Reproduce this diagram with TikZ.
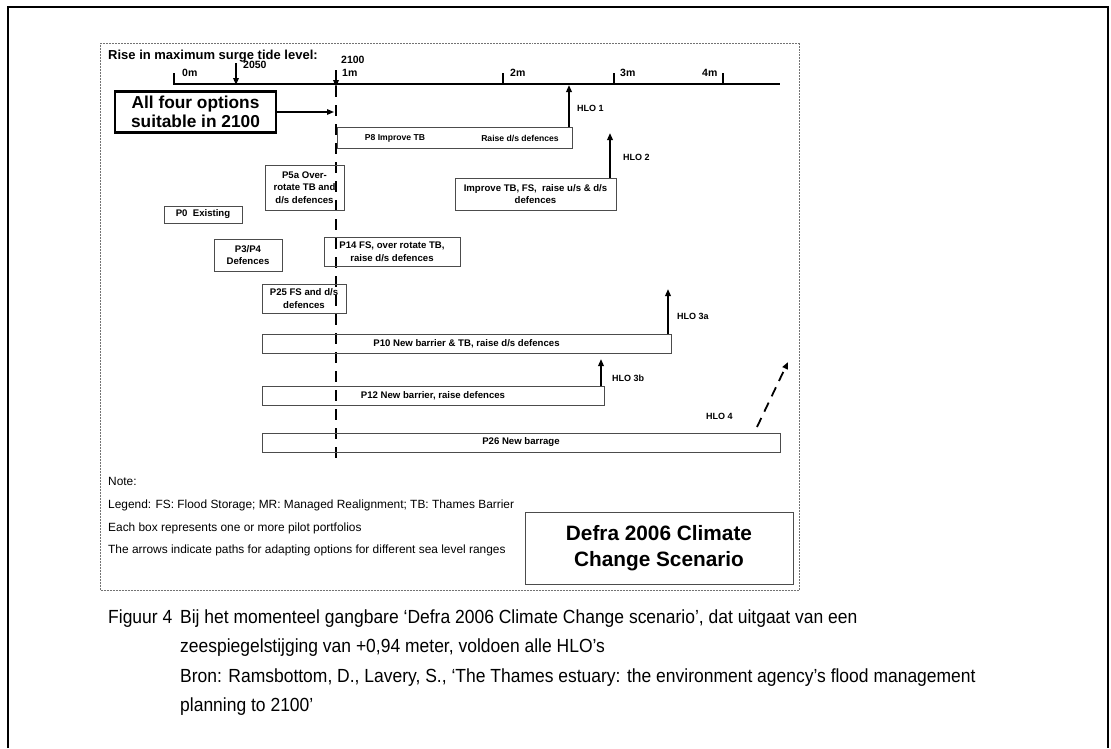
\documentclass[tikz,border=0pt]{standalone}
\usepackage{fontspec}
\setmainfont{Liberation Sans}
\newfontfamily\capfont[FakeStretch=0.92]{Liberation Sans}
\usetikzlibrary{arrows.meta}

\begin{document}
\begin{tikzpicture}[x=1pt,y=-1pt,
  frame/.style={line width=1.8pt},
  optbox/.style={draw=black!70, line width=0.6pt, inner sep=1pt, align=center,
    font=\bfseries\fontsize{9.6}{12.5}\selectfont},
  boxtxt/.style={inner sep=0pt, font=\bfseries\fontsize{8.6}{10}\selectfont},
  axlbl/.style={inner sep=0pt, anchor=west, font=\bfseries\fontsize{10.5}{12}\selectfont},
  hlo/.style={inner sep=0pt, anchor=west, font=\bfseries\fontsize{9}{11}\selectfont},
  notetxt/.style={inner sep=0pt, anchor=west, font=\fontsize{11.9}{13}\selectfont},
  captxt/.style={inner sep=0pt, anchor=base west, font=\capfont\fontsize{19}{21}\selectfont},
  uparrow/.style={-{Triangle[length=7pt,width=5.5pt]}, line width=1.7pt},
]
\useasboundingbox (0,0) rectangle (1111,748);

% page frame, open at the bottom
\draw[frame] (8,748) -- (8,7) -- (1108,7) -- (1108,748);

% figure panel
\draw[black!55, line width=0.5pt, densely dotted] (100,43) rectangle (799,590);

% --- sea level axis --------------------------------------------------
\node[inner sep=0pt, anchor=west, font=\bfseries\fontsize{13}{15}\selectfont] (title) at (108,56) {Rise in maximum surge tide level:};
\coordinate (ax0top) at (174,73);
\coordinate (ax0) at (174,84);
\coordinate (ax1) at (780,84);
\draw[line width=1.8pt] (ax0top) -- (ax0) -- (ax1);
\foreach \tx/\nm in {503/t2, 614/t3, 723/t4}{
  \coordinate (\nm a) at (\tx,73);
  \coordinate (\nm b) at (\tx,84);
  \draw[line width=1.2pt] (\nm a) -- (\nm b);
}
\node[axlbl] (l0) at (182,73) {0m};
\node[axlbl] (l1) at (342,73) {1m};
\node[axlbl] (l2) at (510,73) {2m};
\node[axlbl] (l3) at (620,73) {3m};
\node[axlbl] (l4) at (702,73) {4m};
\node[axlbl] (y2050) at (243,65) {2050};
\node[axlbl] (y2100) at (341,60) {2100};

\coordinate (a2050s) at (236,63);
\coordinate (a2050e) at (236,85);
\draw[uparrow] (a2050s) -- (a2050e);
\coordinate (a2100s) at (336,70);
\coordinate (a2100e) at (336,87);
\draw[uparrow] (a2100s) -- (a2100e);

% 2100 marker line
\coordinate (m2100top) at (336,86);
\coordinate (m2100bot) at (336,463);
\draw[line width=2.6pt, dash pattern=on 11pt off 8pt] (m2100top) -- (m2100bot);

% --- headline box ------------------------------------------------------
\node[draw, line width=2.4pt, minimum width=161pt, minimum height=41pt, inner sep=1pt,
  align=center, font=\bfseries\fontsize{17.3}{19}\selectfont] (all) at (195.5,112)
  {All four options\\suitable in 2100};
\coordinate (allend) at (334,112);
\draw[-{Triangle[length=7pt,width=5.5pt]}, line width=1.3pt] (all.east) -- (allend);

% --- portfolio boxes -------------------------------------------------
\node[optbox, minimum width=235pt, minimum height=21pt] (p8) at (454.5,137.5) {};
\node[boxtxt] (p8a) at (395,138) {P8 Improve TB};
\node[boxtxt] (p8b) at (520,138) {Raise d/s defences};

\node[optbox, minimum width=161pt, minimum height=32pt] (impr) at (535.5,194)
  {Improve TB, FS,\ \ raise u/s \& d/s\\defences};
\node[optbox, minimum width=79pt, minimum height=45pt] (p5a) at (304.5,187.5)
  {P5a Over-\\rotate TB and\\d/s defences};
\node[optbox, minimum width=78pt, minimum height=17pt] (p0) at (203,214.5)
  {P0\ \ Existing};
\node[optbox, minimum width=68pt, minimum height=32pt] (p34) at (248,255)
  {P3/P4\\Defences};
\node[optbox, minimum width=136pt, minimum height=29pt] (p14) at (392,251.5)
  {P14 FS, over rotate TB,\\raise d/s defences};
\node[optbox, minimum width=84pt, minimum height=29pt] (p25) at (304,298.5)
  {P25 FS and d/s\\defences};
\node[optbox, minimum width=409pt, minimum height=19pt] (p10) at (466.5,343.5)
  {P10 New barrier \& TB, raise d/s defences};
\node[optbox, minimum width=342pt, minimum height=19pt] (p12) at (433,395.5)
  {P12 New barrier, raise defences};
\node[optbox, minimum width=518pt, minimum height=19pt] (p26) at (521,442.5)
  {P26 New barrage};

% --- adaptation paths ------------------------------------------------
\coordinate (h1s) at (569,127);  \coordinate (h1e) at (569,85);
\draw[uparrow] (h1s) -- (h1e);
\node[hlo] (h1) at (577,108) {HLO 1};

\coordinate (h2s) at (610,178);  \coordinate (h2e) at (610,133);
\draw[uparrow] (h2s) -- (h2e);
\node[hlo] (h2) at (623,157) {HLO 2};

\coordinate (h3as) at (668,334); \coordinate (h3ae) at (668,289);
\draw[uparrow] (h3as) -- (h3ae);
\node[hlo] (h3a) at (677,316) {HLO 3a};

\coordinate (h3bs) at (601,386); \coordinate (h3be) at (601,359);
\draw[uparrow] (h3bs) -- (h3be);
\node[hlo] (h3b) at (612,378) {HLO 3b};

\coordinate (h4s) at (757,427);  \coordinate (h4e) at (788,362);
\draw[-{Triangle[length=7pt,width=5.5pt]}, line width=1.8pt, dash pattern=on 10pt off 7pt] (h4s) -- (h4e);
\node[hlo] (h4) at (706,416) {HLO 4};

% --- notes -----------------------------------------------------------
\node[notetxt] (n0) at (108,481) {Note:};
\node[notetxt] (n1) at (108,505) {Legend: FS: Flood Storage; MR: Managed Realignment; TB: Thames Barrier};
\node[notetxt] (n2) at (108,528) {Each box represents one or more pilot portfolios};
\node[notetxt] (n3) at (108,550) {The arrows indicate paths for adapting options for different sea level ranges};

\node[draw=black!70, line width=0.8pt, minimum width=268pt, minimum height=72pt, inner sep=1pt,
  align=center, font=\bfseries\fontsize{20.8}{26}\selectfont] (defra) at (659,548)
  {Defra 2006 Climate\\Change Scenario};

% --- caption -----------------------------------------------------------
\node[captxt] (fig) at (108,623) {Figuur 4};
\node[captxt] (c1) at (180,623) {Bij het momenteel gangbare ‘Defra 2006 Climate Change scenario’, dat uitgaat van een};
\node[captxt] (c2) at (180,652) {zeespiegelstijging van +0,94 meter, voldoen alle HLO’s};
\node[captxt] (c3) at (180,682) {Bron: Ramsbottom, D., Lavery, S., ‘The Thames estuary: the environment agency’s flood management};
\node[captxt] (c4) at (180,711) {planning to 2100’};
\end{tikzpicture}
\end{document}
